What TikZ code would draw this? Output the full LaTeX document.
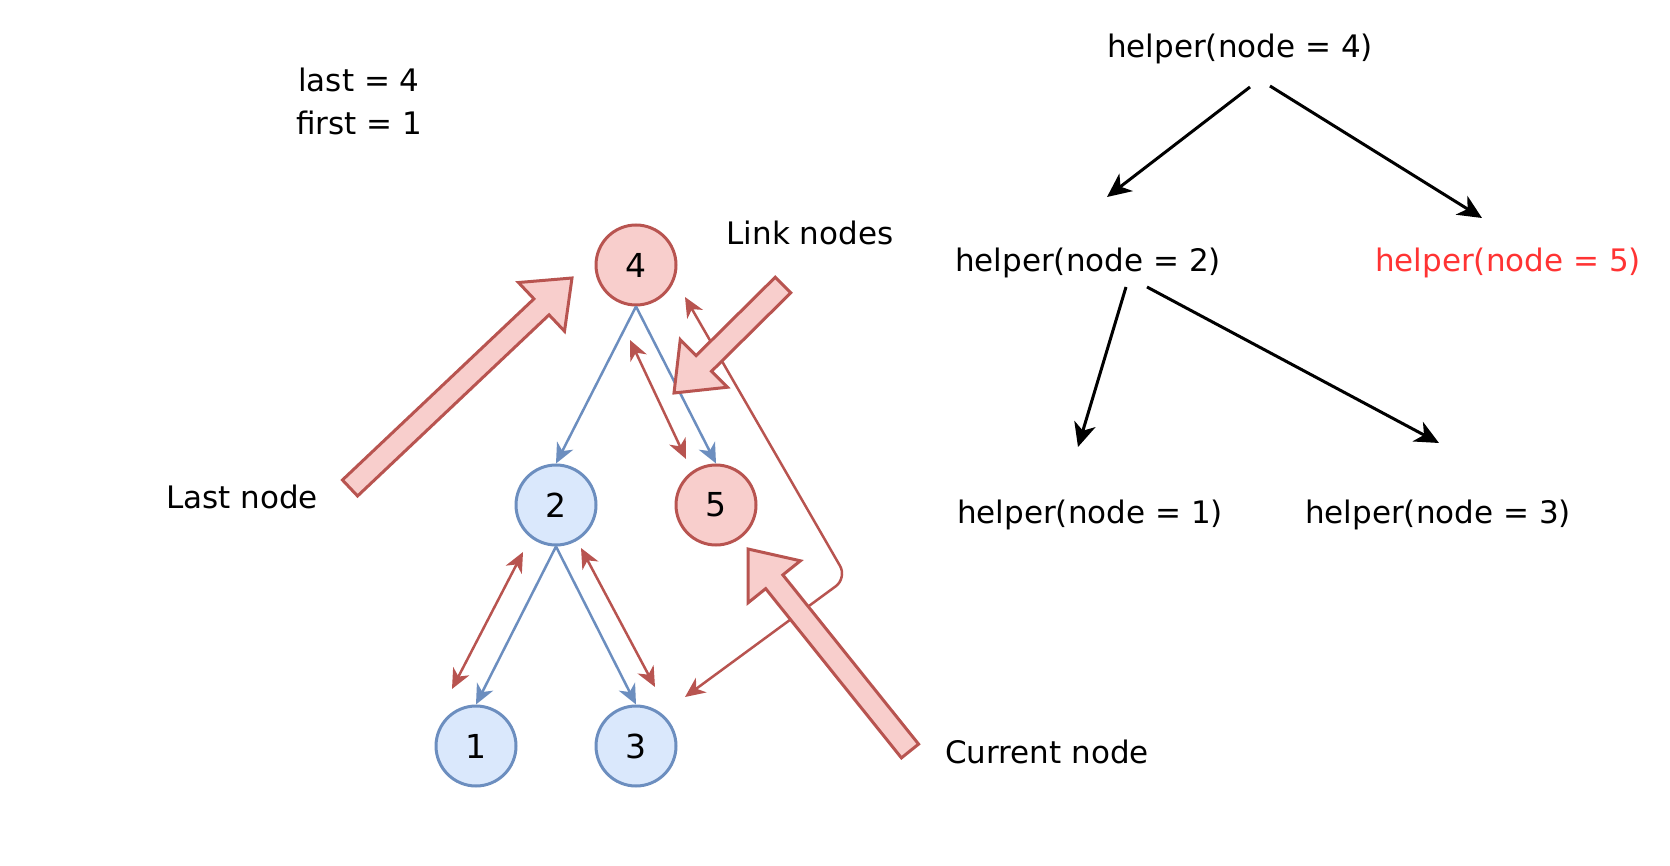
\documentclass[tikz,border=0pt]{standalone}
\usepackage{fontspec}
\setmainfont{DejaVu Sans}
\usetikzlibrary{arrows.meta,calc}
\definecolor{redline}{HTML}{B85450}
\definecolor{redfill}{HTML}{F8CECC}
\definecolor{blueline}{HTML}{6C8EBF}
\definecolor{bluefill}{HTML}{DAE8FC}
\definecolor{redtext}{HTML}{FF3333}

% big pointer arrow: #1 tail, #2 tip
\newcommand{\fatarrow}[2]{%
  \coordinate (fab) at ($(#2)!42pt!(#1)$);
  \draw[fat] ($(#1)!11pt!90:(#2)$) -- ($(fab)!11pt!90:(#2)$)
    -- ($(fab)!33.5pt!90:(#2)$) -- (#2)
    -- ($(fab)!33.5pt!-90:(#2)$) -- ($(fab)!11pt!-90:(#2)$)
    -- ($(#1)!11pt!-90:(#2)$) -- cycle;
}

\begin{document}
\begin{tikzpicture}[x=1pt,y=-1pt,
  every node/.style={font=\fontsize{31}{36}\selectfont},
  redcirc/.style={circle,draw=redline,fill=redfill,line width=3pt,minimum size=80pt,inner sep=0pt,font=\fontsize{33}{36}\selectfont},
  bluecirc/.style={circle,draw=blueline,fill=bluefill,line width=3pt,minimum size=80pt,inner sep=0pt,font=\fontsize{33}{36}\selectfont},
  treeedge/.style={draw=blueline,line width=2.5pt,-{Stealth[length=20pt,width=18pt,inset=6pt]}},
  linkedge/.style={draw=redline,line width=2.5pt,{Stealth[length=20pt,width=18pt,inset=6pt]}-{Stealth[length=20pt,width=18pt,inset=6pt]}},
  calledge/.style={line width=3pt,-{Stealth[length=24pt,width=22pt,inset=7pt]}},
  fat/.style={draw=redline,fill=redfill,line width=3pt}]
\useasboundingbox (0,0) rectangle (1670,866);

\node[anchor=base] (lastv) at (359,92) {last = 4};
\node[anchor=base] (firstv) at (359,135) {first = 1};

% the tree
\node[redcirc] (n4) at (636,265) {4};
\node[bluecirc] (n2) at (556,505) {2};
\node[redcirc] (n5) at (716,505) {5};
\node[bluecirc] (n1) at (476,746) {1};
\node[bluecirc] (n3) at (636,746) {3};

\draw[treeedge] (n4.south) -- (n2.north);
\draw[treeedge] (n4.south) -- (n5.north);
\draw[treeedge] (n2.south) -- (n1.north);
\draw[treeedge] (n2.south) -- (n3.north);

% links
\coordinate (l45a) at (630,340);
\coordinate (l45b) at (686,459);
\coordinate (l21a) at (523,552);
\coordinate (l21b) at (452,689);
\coordinate (l23a) at (581,548);
\coordinate (l23b) at (655,687);
\coordinate (backa) at (685,297);
\coordinate (backc) at (847,578);
\coordinate (backb) at (685,697);
\draw[linkedge] (l45a) -- (l45b);
\draw[linkedge] (l21a) -- (l21b);
\draw[linkedge] (l23a) -- (l23b);
\draw[linkedge,rounded corners=14pt] (backa) -- (backc) -- (backb);

\node[anchor=base] (lastlbl) at (242,508) {Last node};
\node[anchor=base] (linklbl) at (810,245) {Link nodes};
\node[anchor=base] (curlbl) at (1047,763) {Current node};

\coordinate (lastt) at (350,488);
\coordinate (lasth) at (572,278);
\coordinate (linkt) at (783,285);
\coordinate (linkh) at (674,393);
\coordinate (curt) at (910,751);
\coordinate (curh) at (748,549);
\fatarrow{lastt}{lasth}
\fatarrow{linkt}{linkh}
\fatarrow{curt}{curh}

% recursion calls
\node[anchor=base] (h4) at (1240,58) {helper(node = 4)};
\node[anchor=base] (h2) at (1088,272) {helper(node = 2)};
\node[anchor=base,text=redtext] (h5) at (1508,272) {helper(node = 5)};
\node[anchor=base] (h1) at (1090,523) {helper(node = 1)};
\node[anchor=base] (h3) at (1438,523) {helper(node = 3)};

\coordinate (h4l) at (1250,87);
\coordinate (h4r) at (1270,86);
\coordinate (h2in) at (1107,197);
\coordinate (h5in) at (1482,218);
\coordinate (h2l) at (1126,287);
\coordinate (h2r) at (1147,287);
\coordinate (h1in) at (1078,447);
\coordinate (h3in) at (1439,443);
\draw[calledge] (h4l) -- (h2in);
\draw[calledge] (h4r) -- (h5in);
\draw[calledge] (h2l) -- (h1in);
\draw[calledge] (h2r) -- (h3in);
\end{tikzpicture}
\end{document}
